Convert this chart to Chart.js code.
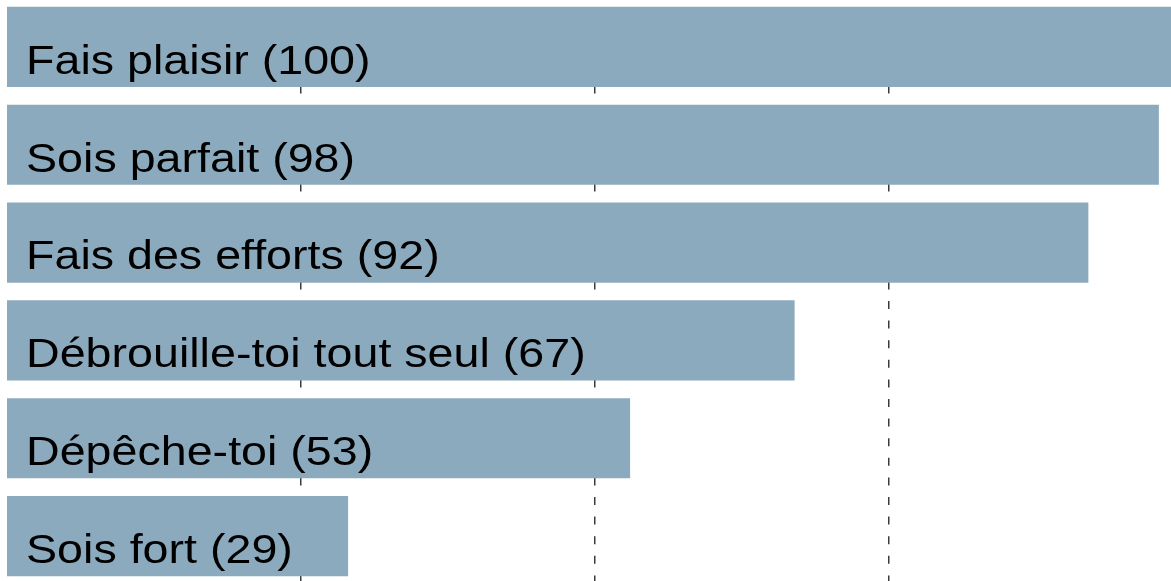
<!DOCTYPE html>
<html>
<head>
<meta charset="utf-8">
<script src="https://cdn.jsdelivr.net/npm/chart.js@4"></script>
<style>
  html, body { margin: 0; padding: 0; background: #ffffff; overflow: hidden; }
  #wrap { position: absolute; left: 0; top: -2px; width: 1171px; height: 587px; }
</style>
</head>
<body>
<div id="wrap"><canvas id="c" width="1171" height="587"></canvas></div>
<script>
const categories = ["Fais plaisir", "Sois parfait", "Fais des efforts", "Débrouille-toi tout seul", "Dépêche-toi", "Sois fort"];
const values = [100, 98, 92, 67, 53, 29];
const gridTicks = [25, 50, 75];

const labelPlugin = {
  id: 'insideLabels',
  afterDatasetsDraw(chart) {
    const ctx = chart.ctx;
    const meta = chart.getDatasetMeta(0);
    ctx.save();
    ctx.fillStyle = '#000000';
    ctx.font = '41px "Liberation Sans", Arial, sans-serif';
    ctx.textBaseline = 'alphabetic';
    ctx.textAlign = 'left';
    meta.data.forEach((bar, i) => {
      const text = categories[i] + ' (' + values[i] + ')';
      const x = bar.base + 19;
      const y = bar.y + bar.height / 2 - 13;
      ctx.save();
      ctx.translate(x, y);
      ctx.scale(1.137, 1);
      ctx.fillText(text, 0, 0);
      ctx.restore();
    });
    ctx.restore();
  }
};

new Chart(document.getElementById('c'), {
  type: 'bar',
  data: {
    labels: categories,
    datasets: [{
      data: values,
      backgroundColor: '#8CAABD',
      borderWidth: 0,
      barThickness: 79.5
    }]
  },
  options: {
    indexAxis: 'y',
    responsive: false,
    animation: false,
    layout: { padding: { left: 7, right: 0, top: 0, bottom: 0 } },
    plugins: { legend: { display: false }, tooltip: { enabled: false } },
    scales: {
      x: {
        type: 'linear',
        min: 0,
        max: 99.06,
        afterBuildTicks(scale) { scale.ticks = gridTicks.map(v => ({ value: v })); },
        ticks: { display: false },
        grid: { display: true, drawTicks: false, color: '#3a3a3a', lineWidth: 1.5 },
        border: { display: false, dash: [8, 11.6], dashOffset: 10.6 }
      },
      y: {
        display: false,
        grid: { display: false }
      }
    }
  },
  plugins: [labelPlugin]
});
</script>
</body>
</html>
